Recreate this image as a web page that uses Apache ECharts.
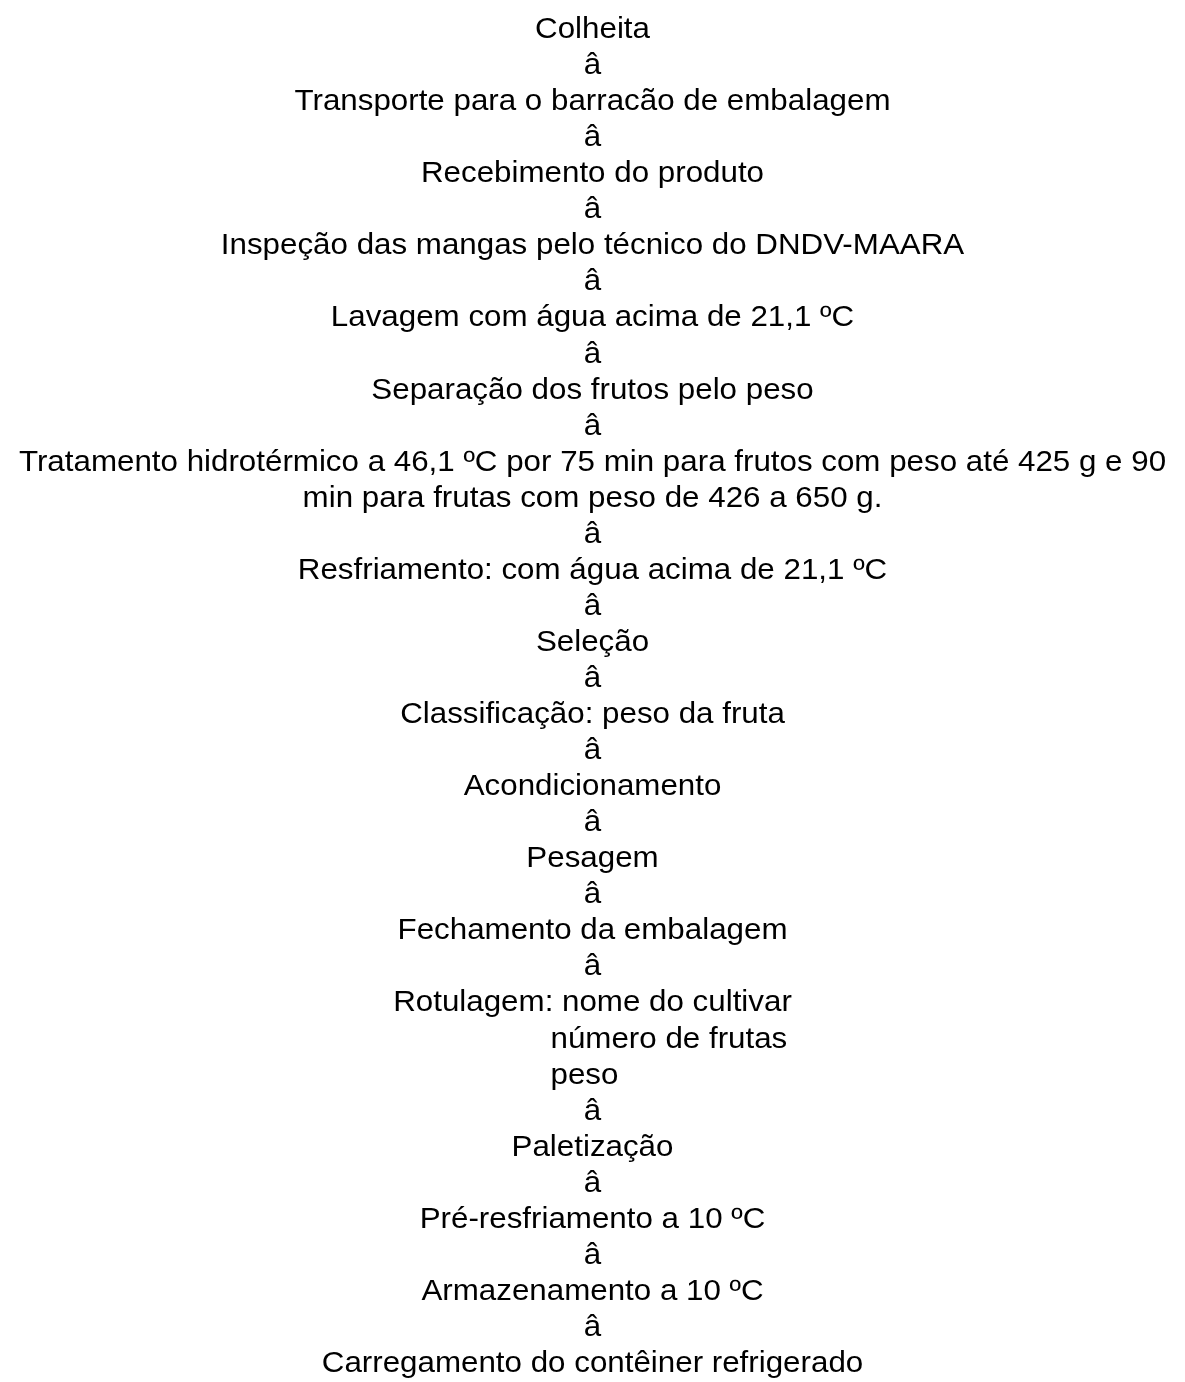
<!DOCTYPE html>
<html>
<head>
<meta charset="utf-8">
<script src="https://cdn.jsdelivr.net/npm/echarts@6/dist/echarts.min.js"></script>
<style>
  html, body { margin: 0; padding: 0; background: #fff; }
  #chart { width: 1185px; height: 1382px; }
</style>
</head>
<body>
<div id="chart"></div>
<script>
// linhas do fluxograma, de cima para baixo
const lines = [
  'Colheita', 'â',
  'Transporte para o barracão de embalagem', 'â',
  'Recebimento do produto', 'â',
  'Inspeção das mangas pelo técnico do DNDV-MAARA', 'â',
  'Lavagem com água acima de 21,1 ºC', 'â',
  'Separação dos frutos pelo peso', 'â',
  'Tratamento hidrotérmico a 46,1 ºC por 75 min para frutos com peso até 425 g e 90',
  'min para frutas com peso de 426 a 650 g.', 'â',
  'Resfriamento: com água acima de 21,1 ºC', 'â',
  'Seleção', 'â',
  'Classificação: peso da fruta', 'â',
  'Acondicionamento', 'â',
  'Pesagem', 'â',
  'Fechamento da embalagem', 'â',
  'Rotulagem: nome do cultivar',
  'número de frutas',
  'peso', 'â',
  'Paletização', 'â',
  'Pré-resfriamento a 10 ºC', 'â',
  'Armazenamento a 10 ºC', 'â',
  'Carregamento do contêiner refrigerado'
]
// linhas que continuam a rotulagem (alinhadas à esquerda)
const indented = [28, 29]

const chart = echarts.init(document.getElementById('chart'))

chart.setOption({
  animation: false,
  backgroundColor: '#fff',
  grid: { left: 0, right: 0, top: 12, bottom: -5 },
  xAxis: { type: 'value', min: -1, max: 1, show: false },
  yAxis: {
    type: 'category',
    inverse: true,
    data: lines.map((t, i) => String(i)),
    show: false
  },
  series: [{
    type: 'custom',
    data: lines.map((t, i) => [0, i]),
    encode: { x: 0, y: 1 },
    renderItem(params, api) {
      const i = params.dataIndex
      const pt = api.coord([0, i])
      const left = indented.includes(i)
      return {
        type: 'text',
        x: pt[0] + (left ? -42 : 0),
        y: pt[1],
        scaleX: 1.08,
        style: {
          text: lines[i],
          fill: '#000',
          font: '29px "Liberation Sans", Arial, sans-serif',
          align: left ? 'left' : 'center',
          verticalAlign: 'middle'
        }
      }
    }
  }]
})
</script>
</body>
</html>
